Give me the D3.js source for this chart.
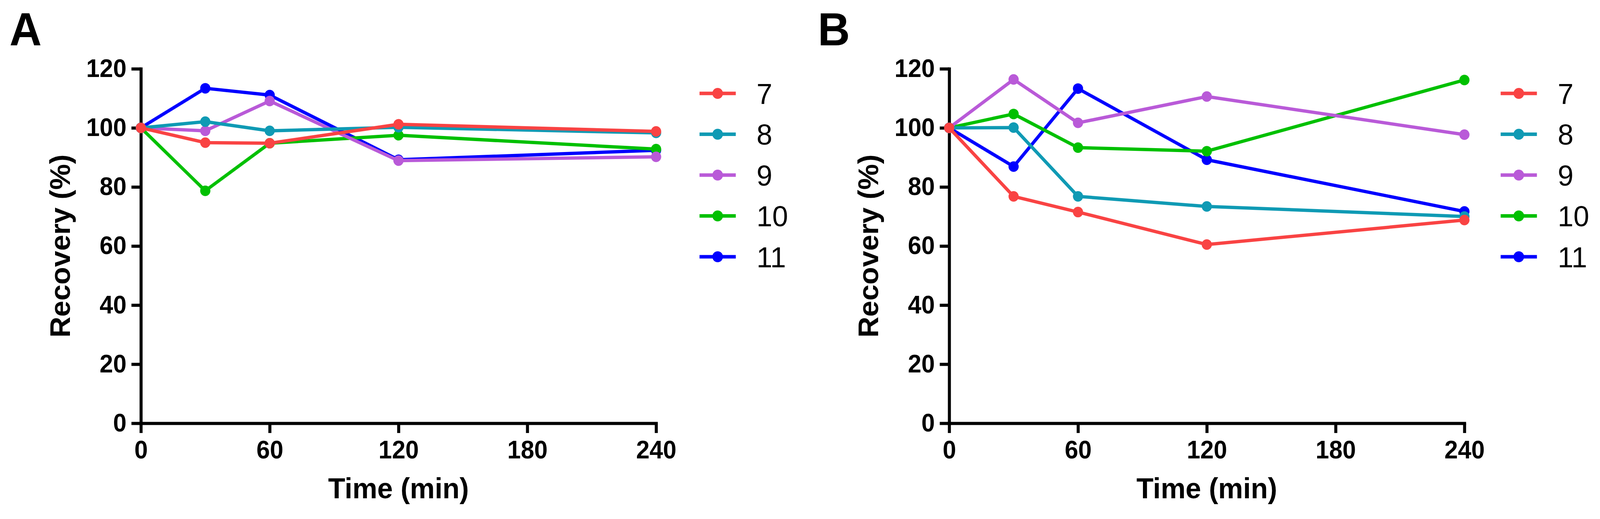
<!DOCTYPE html>
<html>
<head>
<meta charset="utf-8">
<script src="https://cdn.jsdelivr.net/npm/d3@7"></script>
<style>
  html, body { margin: 0; padding: 0; background: #fff; overflow: hidden; }
  #chart { width: 100vw; height: 100vh; }
  svg { display: block; }
  text { font-family: "Liberation Sans", Arial, sans-serif; }
</style>
</head>
<body>
<div id="chart"></div>
<script>

var times = [0, 30, 60, 120, 240];
var seriesNames = ["7", "8", "9", "10", "11"];
var colors = ["#F94343", "#0F9AB4", "#B95AD8", "#00C000", "#0000FF"];
var xTicks = [0, 60, 120, 180, 240];
var yTicks = [0, 20, 40, 60, 80, 100, 120];

// panel A
var a7 = [100, 95.0, 94.8, 101.2, 98.8];
var a8 = [100, 102.1, 99.0, 100.2, 98.3];
var a9 = [100, 99.0, 109.1, 88.9, 90.2];
var a10 = [100, 78.7, 94.8, 97.5, 92.8];
var a11 = [100, 113.4, 111.1, 89.2, 92.4];

// panel B
var b7 = [100, 76.8, 71.5, 60.5, 68.8];
var b8 = [100, 100.1, 76.8, 73.4, 70.0];
var b9 = [100, 116.4, 101.7, 110.6, 97.7];
var b10 = [100, 104.7, 93.3, 92.1, 116.2];
var b11 = [100, 86.9, 113.3, 89.2, 71.7];

var width = 4236, height = 1328;

// stretch to whatever the window really is
var svg = d3.select("#chart")
    .append("svg")
    .attr("viewBox", "0 0 " + width + " " + height)
    .attr("preserveAspectRatio", "none")
    .attr("width", "100%")
    .attr("height", "100%");

svg.append("rect")
    .attr("width", width)
    .attr("height", height)
    .style("fill", "#fff");

plotPanel(373, 1900, "A", [a7, a8, a9, a10, a11]);
plotPanel(2513, 4021, "B", [b7, b8, b9, b10, b11]);

function plotPanel(left, legendX, letter, series) {
    var x = d3.scaleLinear().domain([0, 240]).range([left, left + 1364]);
    var y = d3.scaleLinear().domain([0, 120]).range([1083, 176]);

    var g = svg.append("g");

    // panel letter
    g.append("text")
        .attr("x", left - 348)
        .attr("y", 116)
        .style("font-size", "118px")
        .style("font-weight", "bold")
        .text(letter);

    var yAxis = g.append("g")
        .attr("transform", "translate(" + left + ",0)")
        .call(d3.axisLeft(y).tickValues(yTicks).tickSize(25).tickPadding(13).tickSizeOuter(0));

    var xAxis = g.append("g")
        .attr("transform", "translate(0," + y(0) + ")")
        .call(d3.axisBottom(x).tickValues(xTicks).tickSize(25).tickPadding(20).tickSizeOuter(0));

    [yAxis, xAxis].forEach(function (ax) {
        ax.select(".domain")
            .attr("stroke", "#000")
            .attr("stroke-width", 8)
            .attr("stroke-linecap", "square");
        ax.selectAll(".tick line")
            .attr("stroke", "#000")
            .attr("stroke-width", 8);
        ax.selectAll(".tick text")
            .attr("fill", "#000")
            .style("font-size", "64px")
            .style("font-weight", "bold")
            .style("font-family", "'Liberation Sans', Arial, sans-serif");
    });

    // axis titles
    g.append("text")
        .attr("transform", "translate(" + (left - 188) + "," + ((y(0) + y(120)) / 2) + ") rotate(-90)")
        .attr("text-anchor", "middle")
        .style("font-size", "74px")
        .style("font-weight", "bold")
        .text("Recovery (%)");

    g.append("text")
        .attr("x", (x(0) + x(240)) / 2)
        .attr("y", 1275)
        .attr("text-anchor", "middle")
        .style("font-size", "74px")
        .style("font-weight", "bold")
        .text("Time (min)");

    var line = d3.line()
        .x(function (d, i) { return x(times[i]); })
        .y(function (d) { return y(d); });

    // first series drawn last so it sits on top
    for (var s = series.length - 1; s >= 0; s--) {
        var sg = g.append("g");
        sg.append("path")
            .datum(series[s])
            .attr("d", line)
            .attr("fill", "none")
            .attr("stroke", colors[s])
            .attr("stroke-width", 8.5)
            .attr("stroke-linejoin", "round");
        sg.selectAll("circle")
            .data(series[s])
            .enter()
            .append("circle")
            .attr("cx", function (d, i) { return x(times[i]); })
            .attr("cy", function (d) { return y(d); })
            .attr("r", 13.5)
            .attr("fill", colors[s]);
    }

    // legend
    seriesNames.forEach(function (name, i) {
        var ly = 239 + i * 104.5;
        g.append("line")
            .attr("x1", legendX - 48)
            .attr("x2", legendX + 48)
            .attr("y1", ly)
            .attr("y2", ly)
            .attr("stroke", colors[i])
            .attr("stroke-width", 9);
        g.append("circle")
            .attr("cx", legendX)
            .attr("cy", ly)
            .attr("r", 14)
            .attr("fill", colors[i]);
        g.append("text")
            .attr("x", legendX + 103)
            .attr("y", ly + 27)
            .style("font-size", "75px")
            .text(name);
    });
}

</script>
</body>
</html>
